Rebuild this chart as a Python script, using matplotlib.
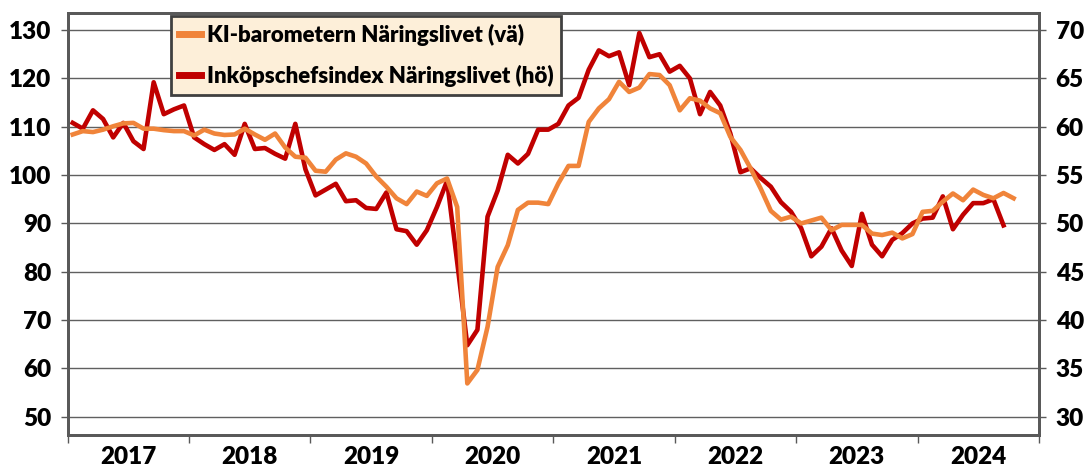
import matplotlib.pyplot as plt
import numpy as np

years = ['2017', '2018', '2019', '2020', '2021', '2022', '2023', '2024']

# KI-barometern, monthly from Jan 2017 (left axis)
ki = [108.4, 109.1, 108.9, 109.4, 110.1, 110.7, 110.8, 109.6, 109.6, 109.3, 109.1, 109.1,
      108.2, 109.4, 108.6, 108.3, 108.4, 109.6, 108.4, 107.3, 108.6, 105.7, 103.8, 103.6,
      100.9, 100.7, 103.2, 104.5, 103.8, 102.4, 99.7, 97.6, 95.2, 94.0, 96.6, 95.7,
      98.3, 99.3, 93.4, 56.9, 59.7, 68.6, 81.0, 85.5, 92.8, 94.3, 94.3, 94.0,
      98.3, 101.9, 101.9, 111.0, 113.8, 115.7, 119.3, 117.2, 118.1, 120.9, 120.7, 118.6,
      113.4, 115.9, 115.4, 113.8, 112.8, 107.9, 105.2, 101.4, 97.2, 92.6, 90.8, 91.4,
      90.0, 90.6, 91.2, 88.6, 89.7, 89.7, 89.7, 87.9, 87.6, 88.1, 86.9, 87.8,
      92.4, 92.6, 94.5, 96.2, 94.8, 97.0, 95.9, 95.2, 96.3, 95.2]

# Inköpschefsindex, monthly from Jan 2017 (right axis)
pmi = [60.4, 59.8, 61.7, 60.8, 58.9, 60.4, 58.5, 57.7, 64.6, 61.3, 61.8, 62.2,
       58.9, 58.2, 57.6, 58.2, 57.1, 60.3, 57.7, 57.8, 57.2, 56.7, 60.3, 55.6,
       52.9, 53.5, 54.1, 52.3, 52.4, 51.6, 51.5, 53.2, 49.4, 49.2, 47.8, 49.3,
       51.7, 54.4, 46.0, 37.4, 39.0, 50.7, 53.4, 57.1, 56.2, 57.2, 59.7, 59.7,
       60.3, 62.2, 63.0, 65.9, 67.9, 67.3, 67.7, 64.3, 69.7, 67.2, 67.5, 65.7,
       66.3, 65.0, 61.3, 63.6, 62.2, 59.3, 55.3, 55.7, 54.7, 53.8, 52.2, 51.2,
       49.5, 46.6, 47.6, 49.5, 47.2, 45.6, 51.0, 47.8, 46.6, 48.3, 49.0, 50.0,
       50.5, 50.6, 52.8, 49.4, 50.9, 52.1, 52.1, 52.5, 49.8]

plt.rcParams['font.family'] = 'Lato'
plt.rcParams['font.weight'] = 'heavy'

fig = plt.figure(figsize=(10.88, 4.71), dpi=100)
ax = fig.add_axes([0.0622, 0.0771, 0.8927, 0.896])
ax2 = ax.twinx()
ax.set_zorder(ax2.get_zorder() + 1)
ax.patch.set_visible(False)

l_pmi, = ax2.plot(np.arange(len(pmi)), pmi, color='#C00000', lw=3.3,
                  solid_joinstyle='round', label='Inköpschefsindex Näringslivet (hö)')
l_ki, = ax.plot(np.arange(len(ki)), ki, color='#F0843A', lw=3.3,
                solid_joinstyle='round', label='KI-barometern Näringslivet (vä)')

ax.set_xlim(-0.5, 95.5)
ax.set_ylim(46.3, 133.6)
ax2.set_ylim(28.15, 71.8)
ax.set_yticks(range(50, 131, 10))
ax2.set_yticks(range(30, 71, 5))
ax2.grid(axis='y', color='#606060', lw=1.0)
ax2.set_axisbelow(True)

ax.set_xticks(np.arange(-0.5, 96, 12))
ax.set_xticklabels([])
ax.set_xticks(np.arange(5.5, 96, 12), minor=True)
ax.set_xticklabels(years, minor=True)
ax.tick_params(axis='x', which='major', length=6, width=1, color='#595959')
ax.tick_params(axis='x', which='minor', length=0, pad=8, labelsize=17.5)
ax.tick_params(axis='y', length=5, width=1, color='#595959', pad=7, labelsize=17.5)
ax2.tick_params(axis='y', length=5, width=1, color='#595959', pad=7, labelsize=17.5)

for a in (ax, ax2):
    for s in a.spines.values():
        s.set_color('#595959')
        s.set_linewidth(2)

leg = ax.legend(handles=[l_ki, l_pmi], loc='upper left', bbox_to_anchor=(0.1064, 0.992),
                fontsize=16, handlelength=1.0, handletextpad=0.25, labelspacing=0.85,
                borderpad=0.35, borderaxespad=0, fancybox=False, framealpha=1)
leg.get_frame().set_facecolor('#FDEFD9')
leg.get_frame().set_edgecolor('#404040')
leg.get_frame().set_linewidth(2)
for line in leg.get_lines():
    line.set_linewidth(5)

fig.savefig('out.png', dpi=100)
